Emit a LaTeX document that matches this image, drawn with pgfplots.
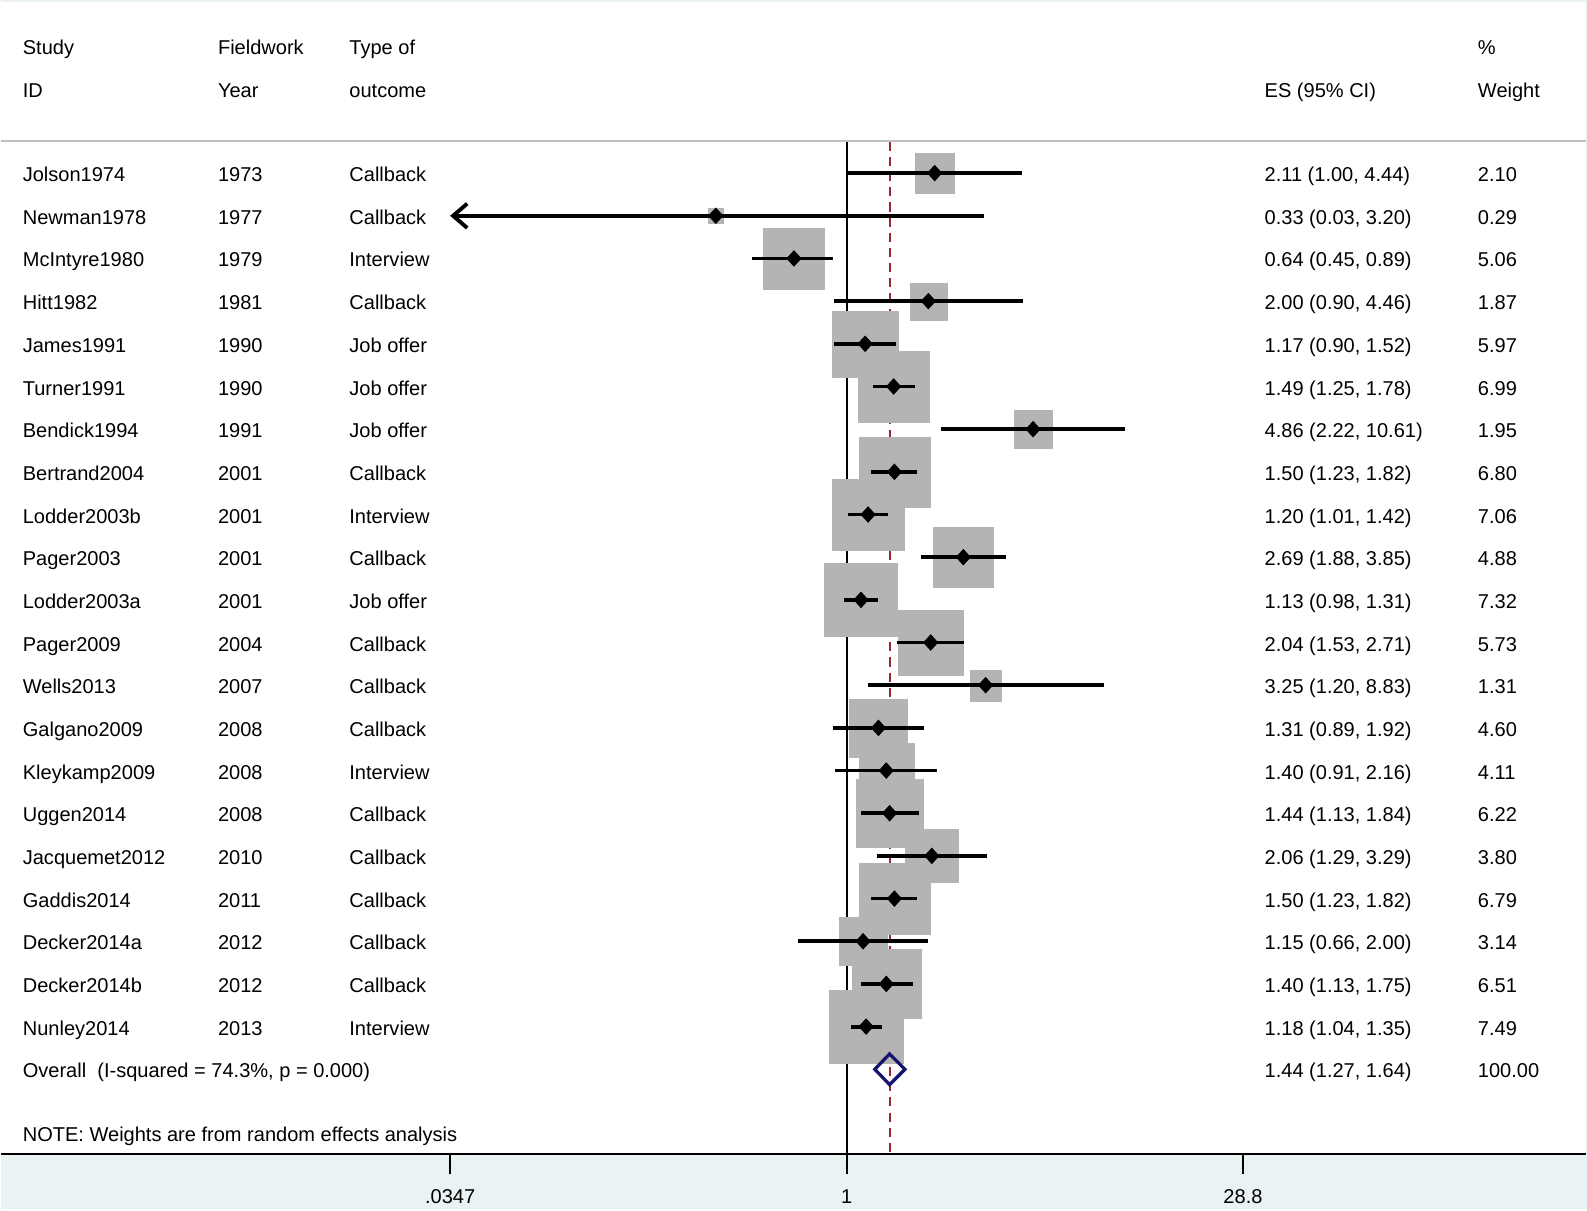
\documentclass[border=0pt]{standalone}
\usepackage{pgfplots}
\pgfplotsset{compat=1.18}
\usepackage{pgfplotstable}
\usepackage{fontspec}
\setmainfont{Liberation Sans}
\usetikzlibrary{arrows.meta}
\definecolor{bgblue}{RGB}{234,242,243}
\definecolor{boxgray}{RGB}{180,180,180}
\definecolor{refred}{RGB}{150,40,50}
\definecolor{navyd}{RGB}{20,20,110}
\definecolor{sepgray}{RGB}{192,192,192}

\pgfplotstableread{
row es lo hi w
-1 2.11 1.00 4.44 2.10
-2 0.33 0.03 3.20 0.29
-3 0.64 0.45 0.89 5.06
-4 2.00 0.90 4.46 1.87
-5 1.17 0.90 1.52 5.97
-6 1.49 1.25 1.78 6.99
-7 4.86 2.22 10.61 1.95
-8 1.50 1.23 1.82 6.80
-9 1.20 1.01 1.42 7.06
-10 2.69 1.88 3.85 4.88
-11 1.13 0.98 1.31 7.32
-12 2.04 1.53 2.71 5.73
-13 3.25 1.20 8.83 1.31
-14 1.31 0.89 1.92 4.60
-15 1.40 0.91 2.16 4.11
-16 1.44 1.13 1.84 6.22
-17 2.06 1.29 3.29 3.80
-18 1.50 1.23 1.82 6.79
-19 1.15 0.66 2.00 3.14
-20 1.40 1.13 1.75 6.51
-21 1.18 1.04 1.35 7.49
}\studies

\newcommand{\txt}[3]{\node[anchor=base west, inner sep=0pt] at ({rel axis cs:#1,0} |- {axis cs:1,#2}) {#3};}
\newcommand{\rowtxt}[6]{%
  \txt{0.0134}{#1}{#2}\txt{0.1366}{#1}{#3}\txt{0.2195}{#1}{#4}%
  \txt{0.7971}{#1}{#5}\txt{0.9317}{#1}{#6}}
\newcommand{\ci}[3]{\addplot[black, line width=1.9pt, forget plot, on layer=axis foreground] coordinates {(#1,#3) (#2,#3)};}

\begin{document}
\begin{tikzpicture}[font=\fontsize{9.9}{12}\selectfont]
\begin{axis}[
  set layers,
  scale only axis, width=783.5pt, height=569.5pt,
  at={(0,0)}, anchor=south west,
  xmode=log, xmin=0.000772, xmax=526.7,
  ymin=-23.99, ymax=3,
  axis x line*=bottom, axis y line=none,
  x axis line style={-, line width=1.2pt, black},
  xtick={0.0347,1,28.8}, xticklabels={.0347,1,28.8},
  xminorticks=false,
  tick align=outside, major tick length=10pt,
  xtick style={line width=1pt, black},
  xticklabel style={font=\fontsize{9.9}{12}\selectfont, yshift=-4pt},
  clip=false,
]
\begin{pgfonlayer}{axis background}
\fill[bgblue] ([yshift=-27pt]rel axis cs:0,0) rectangle ([xshift=0.5pt,yshift=1.2pt]rel axis cs:1,1);
\fill[white] (rel axis cs:0,0) rectangle (rel axis cs:1,1);
\end{pgfonlayer}
% separator line
\draw[sepgray, line width=1.1pt] ({rel axis cs:0,0} |- {axis cs:1,-0.24}) -- ({rel axis cs:1,0} |- {axis cs:1,-0.24});
% reference lines
\addplot[black, line width=1pt, forget plot, on layer=pre main] coordinates {(1,-0.265) (1,-23.99)};
\addplot[refred, line width=1pt, dash pattern=on 4.5pt off 3pt, forget plot, on layer=pre main] coordinates {(1.44,-0.265) (1.44,-23.99)};
% weight boxes
\addplot[boxgray, scatter, only marks, mark=square*, forget plot,
  mark options={draw=boxgray, fill=boxgray, line width=0.1pt},
  scatter/use mapped color={draw=boxgray, fill=boxgray},
  visualization depends on={6.68*sqrt(\thisrow{w}) \as \msz},
  scatter/@pre marker code/.append style={/tikz/mark size=\msz pt}]
  table[x=es, y=row] {\studies};
% confidence intervals
\ci{1.00}{4.44}{-1}
\addplot[black, line width=1.9pt, forget plot, on layer=axis foreground, {Straight Barb[length=7pt,width=12pt]}-] coordinates {(0.0347,-2) (3.20,-2)};
\ci{0.45}{0.89}{-3}
\ci{0.90}{4.46}{-4}
\ci{0.90}{1.52}{-5}
\ci{1.25}{1.78}{-6}
\ci{2.22}{10.61}{-7}
\ci{1.23}{1.82}{-8}
\ci{1.01}{1.42}{-9}
\ci{1.88}{3.85}{-10}
\ci{0.98}{1.31}{-11}
\ci{1.53}{2.71}{-12}
\ci{1.20}{8.83}{-13}
\ci{0.89}{1.92}{-14}
\ci{0.91}{2.16}{-15}
\ci{1.13}{1.84}{-16}
\ci{1.29}{3.29}{-17}
\ci{1.23}{1.82}{-18}
\ci{0.66}{2.00}{-19}
\ci{1.13}{1.75}{-20}
\ci{1.04}{1.35}{-21}
% point estimates
\addplot[only marks, mark=diamond*, mark size=3.8pt, mark options={black, fill=black, xscale=1.22}, forget plot, on layer=axis foreground]
  table[x=es, y=row] {\studies};
% overall diamond
\addplot[navyd, line width=1.6pt, line join=miter, forget plot, on layer=axis foreground] coordinates {(1.27,-22) (1.44,-21.64) (1.64,-22) (1.44,-22.36) (1.27,-22) (1.44,-21.64)};
% headers
\txt{0.0134}{1.79}{Study}\txt{0.1366}{1.79}{Fieldwork}\txt{0.2195}{1.79}{Type of}\txt{0.9317}{1.79}{\%}
\txt{0.0134}{0.77}{ID}\txt{0.1366}{0.77}{Year}\txt{0.2195}{0.77}{outcome}\txt{0.7971}{0.77}{ES (95\% CI)}\txt{0.9317}{0.77}{Weight}
% rows
\rowtxt{-1.2}{Jolson1974}{1973}{Callback}{2.11 (1.00, 4.44)}{2.10}
\rowtxt{-2.2}{Newman1978}{1977}{Callback}{0.33 (0.03, 3.20)}{0.29}
\rowtxt{-3.2}{McIntyre1980}{1979}{Interview}{0.64 (0.45, 0.89)}{5.06}
\rowtxt{-4.2}{Hitt1982}{1981}{Callback}{2.00 (0.90, 4.46)}{1.87}
\rowtxt{-5.2}{James1991}{1990}{Job offer}{1.17 (0.90, 1.52)}{5.97}
\rowtxt{-6.2}{Turner1991}{1990}{Job offer}{1.49 (1.25, 1.78)}{6.99}
\rowtxt{-7.2}{Bendick1994}{1991}{Job offer}{4.86 (2.22, 10.61)}{1.95}
\rowtxt{-8.2}{Bertrand2004}{2001}{Callback}{1.50 (1.23, 1.82)}{6.80}
\rowtxt{-9.2}{Lodder2003b}{2001}{Interview}{1.20 (1.01, 1.42)}{7.06}
\rowtxt{-10.2}{Pager2003}{2001}{Callback}{2.69 (1.88, 3.85)}{4.88}
\rowtxt{-11.2}{Lodder2003a}{2001}{Job offer}{1.13 (0.98, 1.31)}{7.32}
\rowtxt{-12.2}{Pager2009}{2004}{Callback}{2.04 (1.53, 2.71)}{5.73}
\rowtxt{-13.2}{Wells2013}{2007}{Callback}{3.25 (1.20, 8.83)}{1.31}
\rowtxt{-14.2}{Galgano2009}{2008}{Callback}{1.31 (0.89, 1.92)}{4.60}
\rowtxt{-15.2}{Kleykamp2009}{2008}{Interview}{1.40 (0.91, 2.16)}{4.11}
\rowtxt{-16.2}{Uggen2014}{2008}{Callback}{1.44 (1.13, 1.84)}{6.22}
\rowtxt{-17.2}{Jacquemet2012}{2010}{Callback}{2.06 (1.29, 3.29)}{3.80}
\rowtxt{-18.2}{Gaddis2014}{2011}{Callback}{1.50 (1.23, 1.82)}{6.79}
\rowtxt{-19.2}{Decker2014a}{2012}{Callback}{1.15 (0.66, 2.00)}{3.14}
\rowtxt{-20.2}{Decker2014b}{2012}{Callback}{1.40 (1.13, 1.75)}{6.51}
\rowtxt{-21.2}{Nunley2014}{2013}{Interview}{1.18 (1.04, 1.35)}{7.49}
\txt{0.0134}{-22.2}{Overall\ \ (I-squared = 74.3\%, p = 0.000)}
\txt{0.7971}{-22.2}{1.44 (1.27, 1.64)}\txt{0.9317}{-22.2}{100.00}
\txt{0.0134}{-23.69}{NOTE: Weights are from random effects analysis}
\end{axis}
\end{tikzpicture}
\end{document}
